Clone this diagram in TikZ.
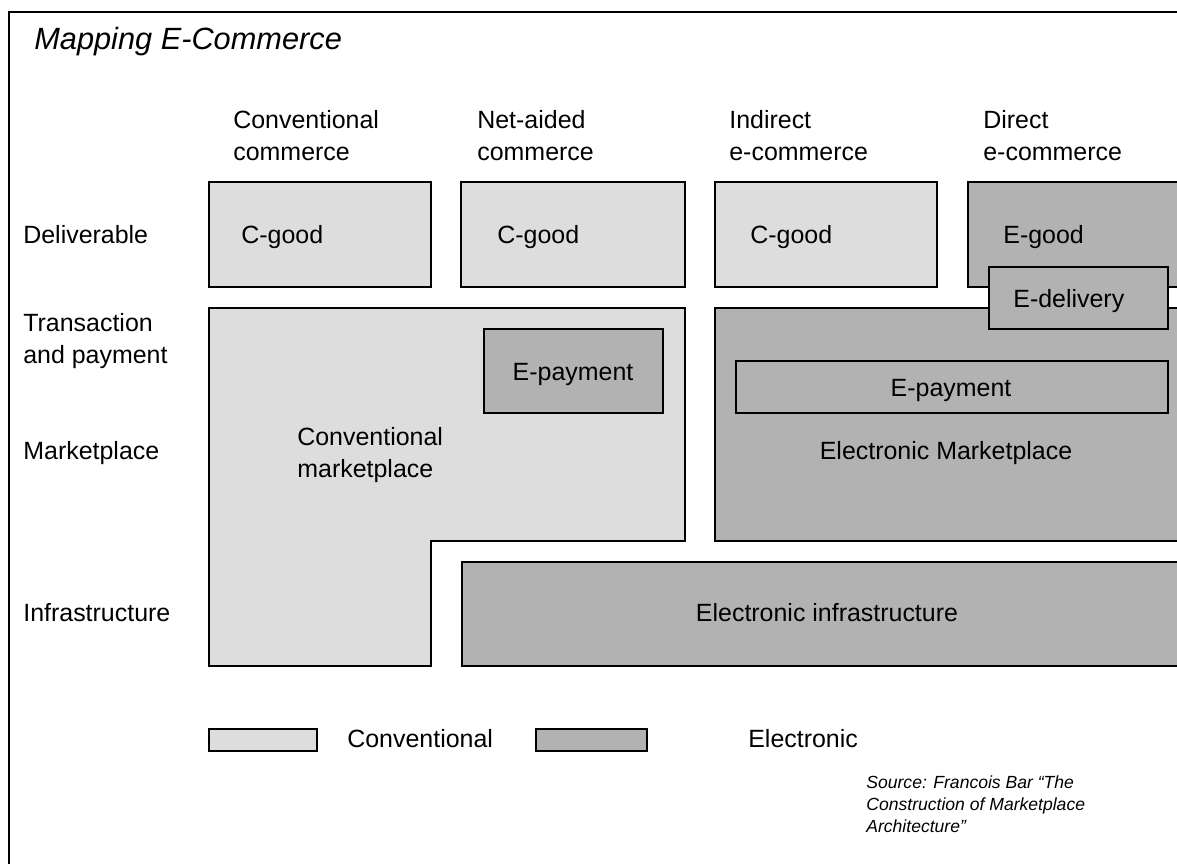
\documentclass[tikz,border=0pt]{standalone}
\usepackage{fontspec}
\setmainfont{Liberation Sans}
\definecolor{convgray}{HTML}{DDDDDD}
\definecolor{elecgray}{HTML}{B2B2B2}
\begin{document}
\begin{tikzpicture}[x=0.02cm, y=-0.02cm,
                    conv/.style={draw, line width=1.1pt, fill=convgray},
                    elec/.style={draw, line width=1.1pt, fill=elecgray},
                    lbl/.style={anchor=base west, inner sep=0pt, align=left,
                                font=\fontsize{14.2}{18.1}\selectfont},
                    mid/.style={anchor=base, inner sep=0pt,
                                font=\fontsize{14.2}{18.1}\selectfont}]
                \useasboundingbox (0,0) rectangle (1177,863);
                \clip (0,0) rectangle (1177,863);
                % frame
                \draw[line width=1.4pt] (9,900) -- (9,12) -- (1200,12);
                \node[lbl, font=\fontsize{17.5}{20}\itshape] (title) at (34,49) {Mapping E-Commerce};
                % column heads (base = last line)
                \node[lbl] (hconv) at (233,160) {Conventional\\commerce};
                \node[lbl] (hnet) at (477,160) {Net-aided\\commerce};
                \node[lbl] (hind) at (729,160) {Indirect\\e-commerce};
                \node[lbl] (hdir) at (983,160) {Direct\\e-commerce};
                % row heads
                \node[lbl] (rdel) at (23,243) {Deliverable};
                \node[lbl] (rtrans) at (23,363) {Transaction\\and payment};
                \node[lbl] (rmkt) at (23,459) {Marketplace};
                \node[lbl] (rinfra) at (23,621) {Infrastructure};
                % deliverables
                \draw[conv] (209,182) rectangle (431,287);
                \draw[conv] (461,182) rectangle (685,287);
                \draw[conv] (715,182) rectangle (937,287);
                \draw[elec] (968,182) rectangle (1200,287);
                \node[lbl] (cgood1) at (241,243) {C-good};
                \node[lbl] (cgood2) at (497,243) {C-good};
                \node[lbl] (cgood3) at (750,243) {C-good};
                \node[lbl] (egood) at (1003,243) {E-good};
                % marketplaces
                \draw[conv] (209,308) -- (685,308) -- (685,541) -- (431,541)
                    -- (431,666) -- (209,666) -- cycle;
                \draw[elec] (715,308) rectangle (1200,541);
                \draw[elec] (989,267) rectangle (1168,329);
                \node[lbl] (edeliv) at (1013,307) {E-delivery};
                \draw[elec] (484,329) rectangle (663,413);
                \node[mid] (epay1) at (573,380) {E-payment};
                \draw[elec] (736,361) rectangle (1168,413);
                \node[mid] (epay2) at (951,396) {E-payment};
                \node[lbl] (cmkt) at (297,477) {Conventional\\marketplace};
                \node[mid] (emkt) at (946,459) {Electronic Marketplace};
                % infrastructure
                \draw[elec] (462,562) rectangle (1200,666);
                \node[mid] (einfra) at (827,621) {Electronic infrastructure};
                % legend
                \draw[conv] (209,729) rectangle (317,751);
                \node[lbl] (lconv) at (347,747) {Conventional};
                \draw[elec] (536,729) rectangle (647,751);
                \node[lbl] (lelec) at (748,747) {Electronic};
                \node[lbl, font=\fontsize{10}{12.5}\itshape] (src) at (866,832)
                    {Source: Francois Bar “The\\Construction of Marketplace\\Architecture”};
\end{tikzpicture}
\end{document}
